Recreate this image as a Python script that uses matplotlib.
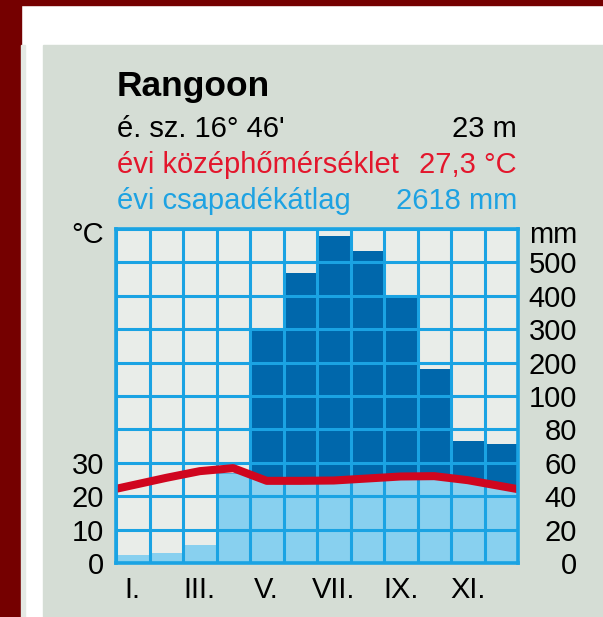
import matplotlib
matplotlib.use("Agg")
import matplotlib.pyplot as plt
import numpy as np
from matplotlib.patches import Rectangle

plt.rcParams['font.family'] = ['Liberation Sans', 'DejaVu Sans']

# monthly values
temp = [23.3, 25.5, 27.5, 28.4, 24.6, 24.6, 24.7, 25.3, 25.9, 26.0, 24.8, 23.0]   # °C
precip = [5, 6, 11, 54, 300, 468, 579, 535, 400, 180, 73, 71]                     # mm
month_labels = ['I.', 'III.', 'V.', 'VII.', 'IX.', 'XI.']
temp_ticks = ['0', '10', '20', '30']
precip_ticks = ['0', '20', '40', '60', '80', '100', '200', '300', '400', '500']

station = 'Rangoon'
lat_text = 'é. sz. 16° 46\''
elev_text = '23 m'
temp_text = ('évi középhőmérséklet', '27,3 °C')
prec_text = ('évi csapadékátlag', '2618 mm')

W, H = 603, 617
C_BORDER = '#750000'
C_PANEL = '#d5ddd5'
C_CELL = '#e9ede9'
C_GRID = '#1aa3e3'
C_DARK = '#0067ab'
C_LIGHT = '#88d0ef'
C_RED = '#d0061f'
C_REDTXT = '#e3162c'
C_BLUETXT = '#1ea2e2'


def prow(p):
    # Walter-Lieth scale: 20 mm per row up to 100 mm, then 100 mm per row
    p = np.asarray(p, dtype=float)
    return np.where(p <= 100, p / 20.0, 5 + (p - 100) / 100.0)


def fx(x):
    return x / W


def fy(y):
    return 1 - y / H


fig = plt.figure(figsize=(W / 100, H / 100), dpi=100)
fig.patch.set_facecolor('white')

# frame and panel
fig.add_artist(Rectangle((0, 0), fx(21), 1, transform=fig.transFigure, color=C_BORDER, zorder=0))
fig.add_artist(Rectangle((0, fy(5)), 1, 5 / H, transform=fig.transFigure, color=C_BORDER, zorder=0))
fig.add_artist(Rectangle((fx(21), 0), fx(4), fy(45), transform=fig.transFigure, color='#e4e9e4', zorder=0))
fig.add_artist(Rectangle((fx(43), 0), 1 - fx(43), fy(45), transform=fig.transFigure, color=C_PANEL, zorder=0))

ax = fig.add_axes([fx(116), fy(563), fx(518) - fx(116), (563 - 229) / H])
ax.set_facecolor(C_CELL)
ax.set_xlim(0, 12)
ax.set_ylim(0, 10)

x = np.arange(12)
p_rows = prow(precip)
t_rows = np.array(temp) / 10.0

# dark blue: whole precipitation bar
ax.bar(x, p_rows, width=1, align='edge', color=C_DARK, zorder=1)

# temperature curve, extended half a month to each edge
xc = np.concatenate([[0], x + 0.5, [12]])
tc = np.concatenate([[t_rows[0] - (t_rows[1] - t_rows[0]) / 2],
                     t_rows,
                     [t_rows[-1] + (t_rows[-1] - t_rows[-2]) / 2]])

# light blue: part of bar under the temperature curve
for i in range(12):
    xs = np.linspace(i, i + 1, 30)
    top = np.minimum(np.interp(xs, xc, tc), p_rows[i])
    ax.fill_between(xs, 0, top, color=C_LIGHT, lw=0, zorder=2)

for i in range(13):
    ax.axvline(i, color=C_GRID, lw=2.2, zorder=3)
for j in range(11):
    ax.axhline(j, color=C_GRID, lw=2.2, zorder=3)

ax.plot(xc, tc, color=C_RED, lw=5.8, solid_capstyle='butt', solid_joinstyle='round', zorder=4)

for s in ax.spines.values():
    s.set_color(C_GRID)
    s.set_linewidth(2.6)
    s.set_zorder(5)

ax.set_xticks(np.arange(0, 12, 2) + 0.5)
ax.set_xticklabels(month_labels, fontsize=21)
ax.set_yticks(list(range(len(temp_ticks))) + [9.9])
ax.set_yticklabels(temp_ticks + ['°C'], fontsize=21)
ax.tick_params(axis='both', length=0)
ax.tick_params(axis='x', pad=9.5)
ax.tick_params(axis='y', pad=8.5)

ax2 = ax.twinx()
ax2.set_ylim(0, 10)
ax2.set_yticks(list(range(len(precip_ticks))) + [9.9])
ax2.set_yticklabels(precip_ticks + ['mm'], fontsize=21)
ax2.tick_params(axis='y', length=0, pad=42.5)
for lab in ax2.get_yticklabels():
    lab.set_horizontalalignment('right')
for s in ax2.spines.values():
    s.set_visible(False)

# header
fig.text(fx(117), fy(96), station, fontsize=25.5, fontweight='bold', va='baseline', ha='left')
fig.text(fx(117), fy(137), lat_text, fontsize=21, va='baseline', ha='left')
fig.text(fx(517), fy(137), elev_text, fontsize=21, va='baseline', ha='right')
fig.text(fx(117), fy(173), temp_text[0], fontsize=21, va='baseline', ha='left', color=C_REDTXT)
fig.text(fx(517), fy(173), temp_text[1], fontsize=21, va='baseline', ha='right', color=C_REDTXT)
fig.text(fx(117), fy(209), prec_text[0], fontsize=21, va='baseline', ha='left', color=C_BLUETXT)
fig.text(fx(517), fy(209), prec_text[1], fontsize=21, va='baseline', ha='right', color=C_BLUETXT)

fig.savefig('out.png', dpi=100)
